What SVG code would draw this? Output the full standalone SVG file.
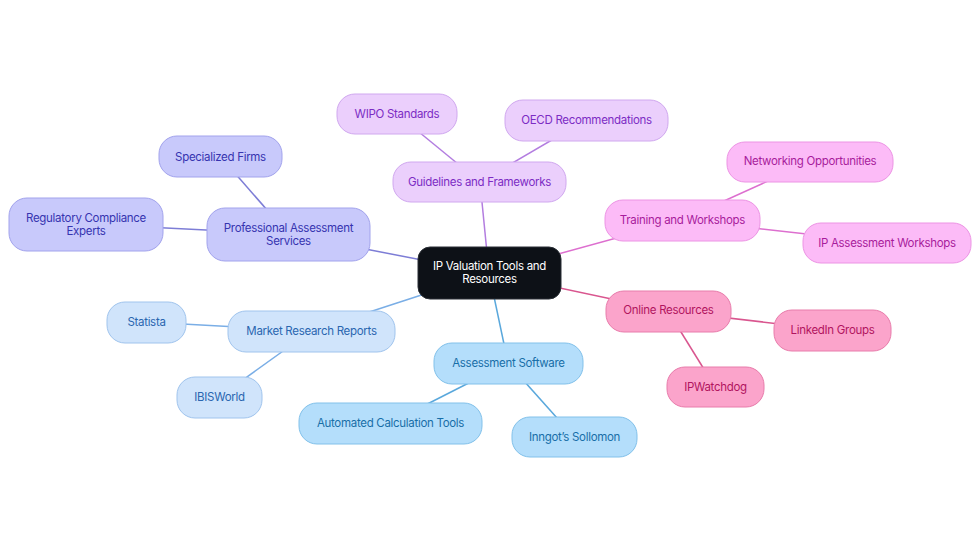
<svg xmlns="http://www.w3.org/2000/svg" width="980" height="553" viewBox="0 0 980 553">
<style>
text{font-family:Inter,"Noto Sans","Liberation Sans",sans-serif;font-size:11.5px;letter-spacing:-0.3px;text-anchor:middle;dominant-baseline:central}
.e{fill:none;stroke-width:1.5}
.pa rect{fill:#c8c9fb;stroke:#a2a3ec}.pa text{fill:#3634b0}
.gf rect{fill:#ebcffc;stroke:#d0a8ef}.gf text{fill:#7c2cc4}
.tw rect{fill:#fcbbf7;stroke:#ec94e4}.tw text{fill:#a81c9c}
.or rect{fill:#fba4cb;stroke:#e87cab}.or text{fill:#b2145f}
.as rect{fill:#b4defb;stroke:#82c1ea}.as text{fill:#186ea8}
.mr rect{fill:#d0e4fb;stroke:#a0c4ed}.mr text{fill:#2a66b0}
</style>
<rect width="980" height="553" fill="#fff"/>
<g id="connectors">
<line class="e" x1="489" y1="273" x2="288" y2="234" stroke="#7d7dd6"/>
<line class="e" x1="288" y1="234" x2="220" y2="156" stroke="#7d7dd6"/>
<line class="e" x1="288" y1="234" x2="86" y2="224" stroke="#7d7dd6"/>
<line class="e" x1="489" y1="273" x2="480" y2="182" stroke="#b37de0"/>
<line class="e" x1="480" y1="182" x2="397" y2="114" stroke="#b37de0"/>
<line class="e" x1="480" y1="182" x2="586" y2="120" stroke="#b37de0"/>
<line class="e" x1="489" y1="273" x2="682" y2="220" stroke="#dd6fcf"/>
<line class="e" x1="682" y1="220" x2="810" y2="162" stroke="#dd6fcf"/>
<line class="e" x1="682" y1="220" x2="887" y2="243" stroke="#dd6fcf"/>
<line class="e" x1="489" y1="273" x2="668" y2="311" stroke="#d9568f"/>
<line class="e" x1="668" y1="311" x2="832" y2="330" stroke="#d9568f"/>
<line class="e" x1="668" y1="311" x2="715" y2="387" stroke="#d9568f"/>
<line class="e" x1="489" y1="273" x2="311" y2="331" stroke="#7aaee6"/>
<line class="e" x1="311" y1="331" x2="146" y2="322" stroke="#7aaee6"/>
<line class="e" x1="311" y1="331" x2="219" y2="397" stroke="#7aaee6"/>
<line class="e" x1="489" y1="273" x2="508" y2="363" stroke="#5aa8dc"/>
<line class="e" x1="508" y1="363" x2="390" y2="423" stroke="#5aa8dc"/>
<line class="e" x1="508" y1="363" x2="574" y2="437" stroke="#5aa8dc"/>
</g>
<g id="center"><rect x="418" y="247" width="143" height="52" rx="12" fill="#0d1117" stroke="#2a2f36"/><text x="489.5" y="265.5" fill="#fff">IP Valuation Tools and</text><text x="489.5" y="279" fill="#fff">Resources</text></g>
<g id="professional" class="pa"><rect x="207" y="208" width="163" height="53" rx="18"/><text x="288.5" y="227.5">Professional Assessment</text><text x="288.5" y="241">Services</text></g>
<g id="specialized" class="pa"><rect x="159" y="136" width="123" height="41" rx="18"/><text x="220.5" y="156.5">Specialized Firms</text></g>
<g id="regulatory" class="pa"><rect x="9" y="198" width="154" height="53" rx="18"/><text x="86" y="217.5">Regulatory Compliance</text><text x="86" y="231">Experts</text></g>
<g id="guidelines" class="gf"><rect x="393" y="162" width="173" height="40" rx="18"/><text x="479.5" y="182">Guidelines and Frameworks</text></g>
<g id="wipo" class="gf"><rect x="337" y="94" width="120" height="40" rx="18"/><text x="397" y="114">WIPO Standards</text></g>
<g id="oecd" class="gf"><rect x="505" y="100" width="163" height="41" rx="18"/><text x="586.5" y="120">OECD Recommendations</text></g>
<g id="training" class="tw"><rect x="605" y="200" width="155" height="41" rx="18"/><text x="682.5" y="220">Training and Workshops</text></g>
<g id="networking" class="tw"><rect x="727" y="142" width="166" height="40" rx="18"/><text x="810" y="161">Networking Opportunities</text></g>
<g id="ipworkshops" class="tw"><rect x="803" y="223" width="168" height="40" rx="18"/><text x="887" y="243">IP Assessment Workshops</text></g>
<g id="online" class="or"><rect x="606" y="291" width="125" height="41" rx="18"/><text x="668.5" y="310">Online Resources</text></g>
<g id="linkedin" class="or"><rect x="774" y="310" width="117" height="41" rx="18"/><text x="832.5" y="330">LinkedIn Groups</text></g>
<g id="ipwatchdog" class="or"><rect x="667" y="367" width="97" height="40" rx="18"/><text x="715.5" y="387">IPWatchdog</text></g>
<g id="market" class="mr"><rect x="228" y="311" width="167" height="41" rx="18"/><text x="311.5" y="331">Market Research Reports</text></g>
<g id="statista" class="mr"><rect x="107" y="302" width="79" height="41" rx="18"/><text x="146.5" y="322">Statista</text></g>
<g id="ibisworld" class="mr"><rect x="177" y="377" width="85" height="41" rx="18"/><text x="219.5" y="397">IBISWorld</text></g>
<g id="software" class="as"><rect x="434" y="343" width="149" height="41" rx="18"/><text x="508.5" y="363">Assessment Software</text></g>
<g id="automated" class="as"><rect x="299" y="403" width="183" height="41" rx="18"/><text x="390.5" y="423">Automated Calculation Tools</text></g>
<g id="inngot" class="as"><rect x="512" y="417" width="125" height="40" rx="18"/><text x="574.5" y="437">Inngot’s Sollomon</text></g>
</svg>
